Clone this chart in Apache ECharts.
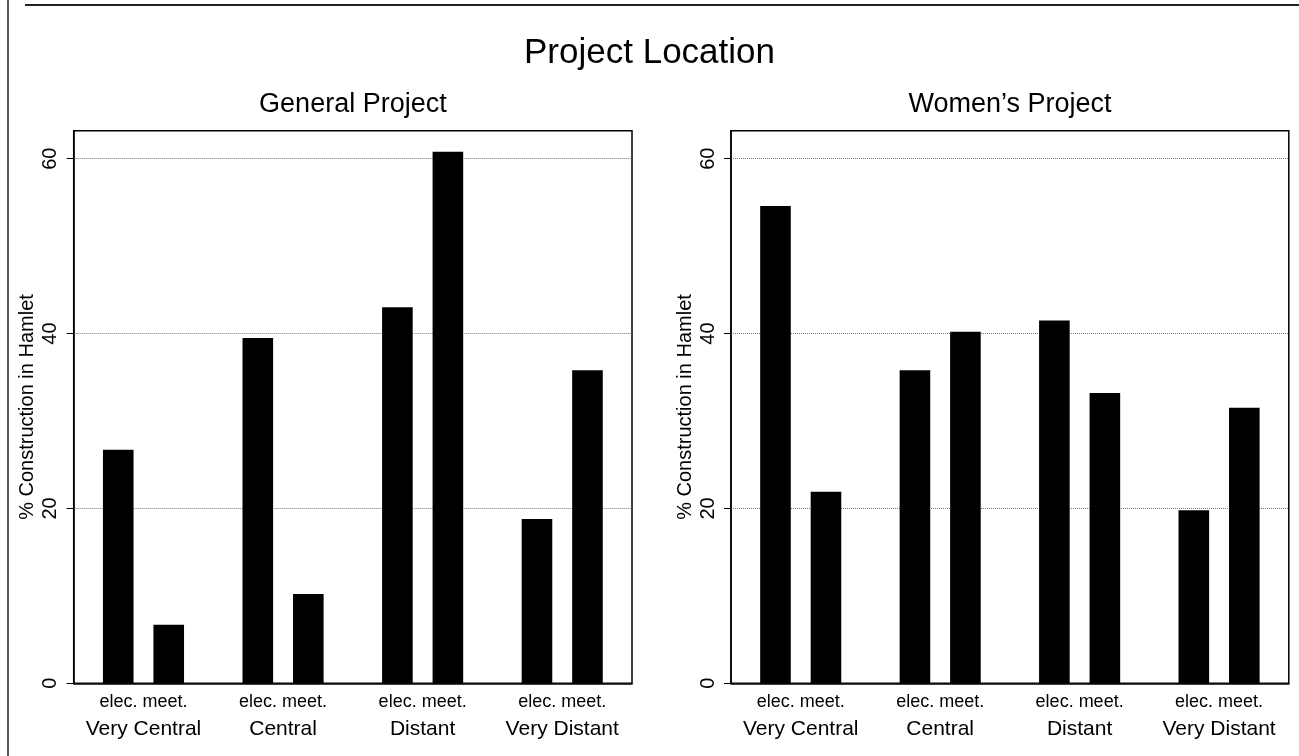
<!DOCTYPE html>
<html>
<head>
<meta charset="utf-8">
<title>Project Location</title>
<script src="https://cdn.jsdelivr.net/npm/echarts@6/dist/echarts.min.js"></script>
<style>
html, body { margin: 0; padding: 0; background: #fff; }
#main { width: 1299px; height: 756px; }
</style>
</head>
<body>
<div id="main"></div>
<script>
// 数据
var locations = ['Very Central', 'Central', 'Distant', 'Very Distant']
var barNames = ['elec.', 'meet.']
var panelTitles = ['General Project', 'Women\u2019s Project']
var yTicks = [0, 20, 40, 60]
var generalElec = [26.7, 39.5, 43.0, 18.8]
var generalMeet = [6.7, 10.2, 60.8, 35.8]
var womenElec = [54.6, 35.8, 41.5, 19.8]
var womenMeet = [21.9, 40.2, 33.2, 31.5]

var font = 'Liberation Sans, Arial, Helvetica, sans-serif'
var chart = echarts.init(document.getElementById('main'))

var grids = [
    { left: 73.7, top: 130.7, width: 558.3, bottom: 72.7 },
    { left: 731, top: 130.7, width: 557.8, bottom: 72.7 }
]

function xAxis(i) {
    return {
        type: 'category',
        gridIndex: i,
        data: locations,
        axisLine: { lineStyle: { color: '#000', width: 1.5 } },
        axisTick: { show: false },
        axisLabel: {
            margin: 6,
            interval: 0,
            formatter: function (v) {
                return '{a|' + barNames.join(' ') + '}\n{b|' + v + '}'
            },
            rich: {
                a: { fontFamily: font, fontSize: 18, lineHeight: 26, color: '#000' },
                b: { fontFamily: font, fontSize: 21, lineHeight: 28, color: '#000' }
            }
        }
    }
}

function yAxis(i) {
    return {
        type: 'value',
        gridIndex: i,
        min: 0,
        max: 63.2,
        interval: 20,
        name: '% Construction in Hamlet',
        nameLocation: 'middle',
        nameRotate: 90,
        nameGap: 36,
        nameTextStyle: { fontFamily: font, fontSize: 20, color: '#000' },
        axisLine: { show: true, lineStyle: { color: '#000', width: 1.5 } },
        axisTick: { show: true, length: 7, customValues: yTicks, lineStyle: { color: '#000' } },
        axisLabel: {
            rotate: 90,
            margin: 13,
            customValues: yTicks,
            fontFamily: font,
            fontSize: 20,
            color: '#000'
        },
        splitLine: { show: true, lineStyle: { color: '#777', type: 'dotted', width: 1 } }
    }
}

function bars(name, data, i) {
    return {
        name: name,
        type: 'bar',
        xAxisIndex: i,
        yAxisIndex: i,
        data: data,
        barWidth: 30.6,
        barGap: '65%',
        itemStyle: { color: '#000' }
    }
}

chart.setOption({
    animation: false,
    title: [
        { text: 'Project Location', left: 'center', top: 36, padding: 0,
          textStyle: { fontFamily: font, fontSize: 35, fontWeight: 'normal', color: '#000' } },
        { text: panelTitles[0], left: 352.9, top: 91, padding: 0, textAlign: 'center',
          textStyle: { fontFamily: font, fontSize: 27, fontWeight: 'normal', color: '#000' } },
        { text: panelTitles[1], left: 1010, top: 91, padding: 0, textAlign: 'center',
          textStyle: { fontFamily: font, fontSize: 27, fontWeight: 'normal', color: '#000' } }
    ],
    grid: grids.map(function (g) {
        return Object.assign({ show: true, borderColor: '#000', borderWidth: 1.5, backgroundColor: '#fff' }, g)
    }),
    xAxis: [xAxis(0), xAxis(1)],
    yAxis: [yAxis(0), yAxis(1)],
    series: [
        bars(barNames[0], generalElec, 0),
        bars(barNames[1], generalMeet, 0),
        bars(barNames[0], womenElec, 1),
        bars(barNames[1], womenMeet, 1)
    ],
    // 外框线
    graphic: [
        { type: 'line', shape: { x1: 25, y1: 5, x2: 1299, y2: 5 }, style: { stroke: '#222', lineWidth: 2 } },
        { type: 'line', shape: { x1: 8, y1: 0, x2: 8, y2: 756 }, style: { stroke: '#222', lineWidth: 1.5 } }
    ]
})
</script>
</body>
</html>
